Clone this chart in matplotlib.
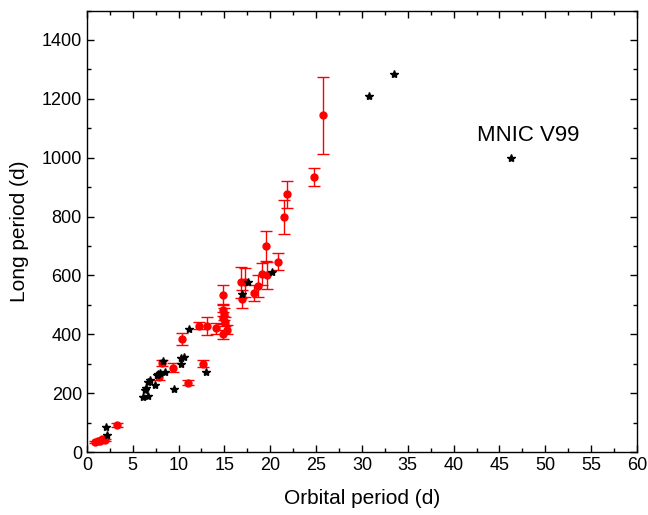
import matplotlib
matplotlib.use('Agg')
import matplotlib.pyplot as plt
import numpy as np
from matplotlib.ticker import MultipleLocator

plt.rcParams['font.family'] = ['Liberation Sans', 'DejaVu Sans']

# ── Data ─────────────────────────────────────────────────────────────────────
# black stars: systems without uncertainties
star_porb = [2.1, 2.2, 6.1, 6.7, 6.5, 6.3, 7.4, 6.7, 6.9, 7.6, 8.0, 8.5, 7.8,
             8.3, 10.3, 10.3, 10.6, 9.5, 11.1, 13.0, 16.9, 17.6, 20.2,
             30.8, 33.5, 46.25]
star_plong = [85, 58, 188, 191, 218, 211, 228, 238, 245, 262, 269, 272, 265,
              310, 300, 320, 324, 214, 419, 272, 538, 579, 613,
              1210, 1285, 1000]

# red points with error bars on the long period
red_porb = [0.9, 1.2, 1.4, 1.6, 2.0, 3.3, 7.9, 8.2, 9.4, 10.4, 11.0, 12.2,
            12.7, 13.1, 14.1, 14.8, 14.8, 14.9, 15.0, 15.1, 15.3, 14.8,
            16.8, 16.9, 17.3, 18.2, 18.7, 19.1, 19.7, 19.5, 20.8, 21.5,
            21.8, 24.8, 25.8]
red_plong = [34, 38, 36, 45, 40, 92, 255, 303, 286, 385, 235, 429,
             300, 429, 420, 535, 400, 483, 470, 443, 415, 456,
             576, 521, 576, 539, 563, 606, 600, 701, 647, 797,
             875, 935, 1144]
red_err = [3, 3, 3, 3, 3, 6, 10, 10, 15, 20, 8, 12,
           12, 30, 20, 34, 15, 20, 20, 15, 15, 20,
           54, 31, 50, 27, 37, 37, 46, 51, 29, 58,
           46, 31, 131]

# ── Figure ───────────────────────────────────────────────────────────────────
fig = plt.figure(figsize=(6.48, 5.15), dpi=100)
ax = fig.add_axes([0.134, 0.1223, 0.849, 0.8573])

ax.errorbar(red_porb, red_plong, yerr=red_err, fmt='o', color='red',
            ecolor='red', markersize=5, elinewidth=1.0, capsize=4,
            capthick=1.0, zorder=2)
ax.plot(star_porb, star_plong, '*', color='black', markersize=6,
        linestyle='none', zorder=3)

ax.text(42.5, 1075, 'MNIC V99', fontsize=16, ha='left', va='center')

ax.set_xlim(0, 60)
ax.set_ylim(0, 1500)
ax.xaxis.set_major_locator(MultipleLocator(5))
ax.xaxis.set_minor_locator(MultipleLocator(2.5))
ax.yaxis.set_major_locator(MultipleLocator(200))
ax.yaxis.set_minor_locator(MultipleLocator(100))
ax.tick_params(which='both', direction='in', top=True, right=True,
               width=1.0, labelsize=13)
ax.tick_params(which='major', length=5)
ax.tick_params(which='minor', length=3)
for sp in ax.spines.values():
    sp.set_linewidth(1.0)

ax.set_xlabel('Orbital period (d)', fontsize=15, labelpad=11)
ax.set_ylabel('Long period (d)', fontsize=15, labelpad=9)

fig.savefig('out.png', dpi=100, facecolor='white')
